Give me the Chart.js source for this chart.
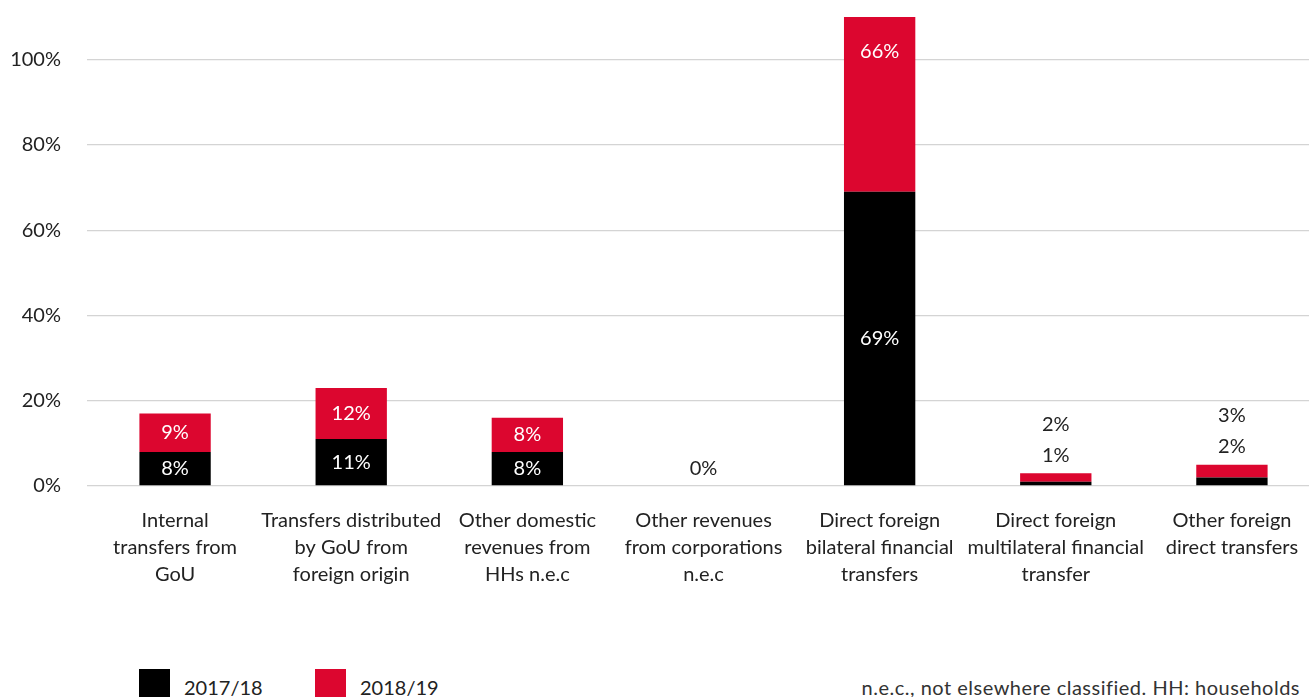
<!DOCTYPE html>
<html>
<head>
  <title>Revenue sources by origin</title>
  <script src="https://cdn.jsdelivr.net/npm/chart.js"></script>
  <style>
    html, body { margin: 0; padding: 0; background: #fff; }
    body { width: 1309px; height: 697px; overflow: hidden; position: relative; font-family: Lato, sans-serif; color: #222; }
    .chart-container { position: absolute; left: 0; top: -21px; width: 1320px; height: 621px; }
    .legend { position: absolute; top: 669px; font-size: 20px; }
    .legend span.box { position: absolute; top: 0; width: 31px; height: 31px; }
    .legend span.txt { position: absolute; top: 6px; white-space: nowrap; }
    #note { position: absolute; right: 9px; top: 675px; font-size: 20px; letter-spacing: 0.5px; white-space: nowrap; color: #333; }
  </style>
</head>
<body>
  <div class="chart-container">
    <canvas id="myChart"></canvas>
  </div>
  <div class="legend" style="left:139px">
    <span class="box" style="background:#000"></span>
    <span class="txt" style="left:45px">2017/18</span>
  </div>
  <div class="legend" style="left:315px">
    <span class="box" style="background:#dc062f"></span>
    <span class="txt" style="left:45px">2018/19</span>
  </div>
  <div id="note">n.e.c., not elsewhere classified. HH: households</div>
  <script>
    const categories = [
      ['Internal', 'transfers from', 'GoU'],
      ['Transfers distributed', 'by GoU from', 'foreign origin'],
      ['Other domestic', 'revenues from', 'HHs n.e.c'],
      ['Other revenues', 'from corporations', 'n.e.c'],
      ['Direct foreign', 'bilateral financial', 'transfers'],
      ['Direct foreign', 'multilateral financial', 'transfer'],
      ['Other foreign', 'direct transfers']
    ];
    const values1718 = [8, 11, 8, 0, 69, 1, 2];
    const values1819 = [9, 12, 8, 0, 66, 2, 3];
    const yTicks = [0, 20, 40, 60, 80, 100];

    const RED = '#dc062f';
    const FONT = 'Lato, sans-serif';

    // writes the % value on each segment; small stacks get their labels above
    const valueLabels = {
      id: 'valueLabels',
      afterDatasetsDraw(chart) {
        const ctx = chart.ctx;
        ctx.save();
        ctx.font = '20px ' + FONT;
        ctx.textAlign = 'center';
        ctx.textBaseline = 'middle';
        const m0 = chart.getDatasetMeta(0), m1 = chart.getDatasetMeta(1);
        categories.forEach((c, i) => {
          const b0 = m0.data[i], b1 = m1.data[i];
          const v0 = values1718[i], v1 = values1819[i];
          const small = (b0.base - b1.y) < 40;
          if (small) {
            ctx.fillStyle = '#222';
            const top = b1.y;
            if (v0 === 0 && v1 === 0) {
              ctx.fillText('0%', b0.x, top - 17);
            } else {
              ctx.fillText(v0 + '%', b0.x, top - 18);
              ctx.fillText(v1 + '%', b1.x, top - 49);
            }
          } else {
            ctx.fillStyle = '#fff';
            ctx.fillText(v0 + '%', b0.x, (b0.y + b0.base) / 2);
            ctx.fillText(v1 + '%', b1.x, (b1.y + b1.base) / 2);
          }
        });
        ctx.restore();
      }
    };

    new Chart(document.getElementById('myChart').getContext('2d'), {
      type: 'bar',
      data: {
        labels: categories,
        datasets: [
          { label: '2017/18', data: values1718, backgroundColor: '#000' },
          { label: '2018/19', data: values1819, backgroundColor: RED }
        ]
      },
      options: {
        animation: false,
        responsive: true,
        maintainAspectRatio: false,
        datasets: { bar: { barPercentage: 0.81, categoryPercentage: 0.5 } },
        layout: { padding: { top: 16, left: 0, right: 0, bottom: 0 } },
        plugins: { legend: { display: false }, tooltip: { enabled: false } },
        scales: {
          x: {
            stacked: true,
            grid: { display: false },
            border: { display: false },
            ticks: { color: '#222', font: { family: FONT, size: 20, lineHeight: 1.35 }, maxRotation: 0, autoSkip: false, padding: 13 },
            afterFit(s) { s.height = 114; }
          },
          y: {
            stacked: true,
            min: 0,
            max: 110,
            grid: { color: '#d4d4d4', lineWidth: 1.3, drawTicks: false },
            border: { display: false },
            afterBuildTicks(s) { s.ticks = yTicks.map(v => ({ value: v })); },
            ticks: { color: '#222', font: { family: FONT, size: 20 }, padding: 26, callback: v => v + '%' },
            afterFit(s) { s.width = 87; }
          }
        }
      },
      plugins: [valueLabels]
    });
  </script>
</body>
</html>
